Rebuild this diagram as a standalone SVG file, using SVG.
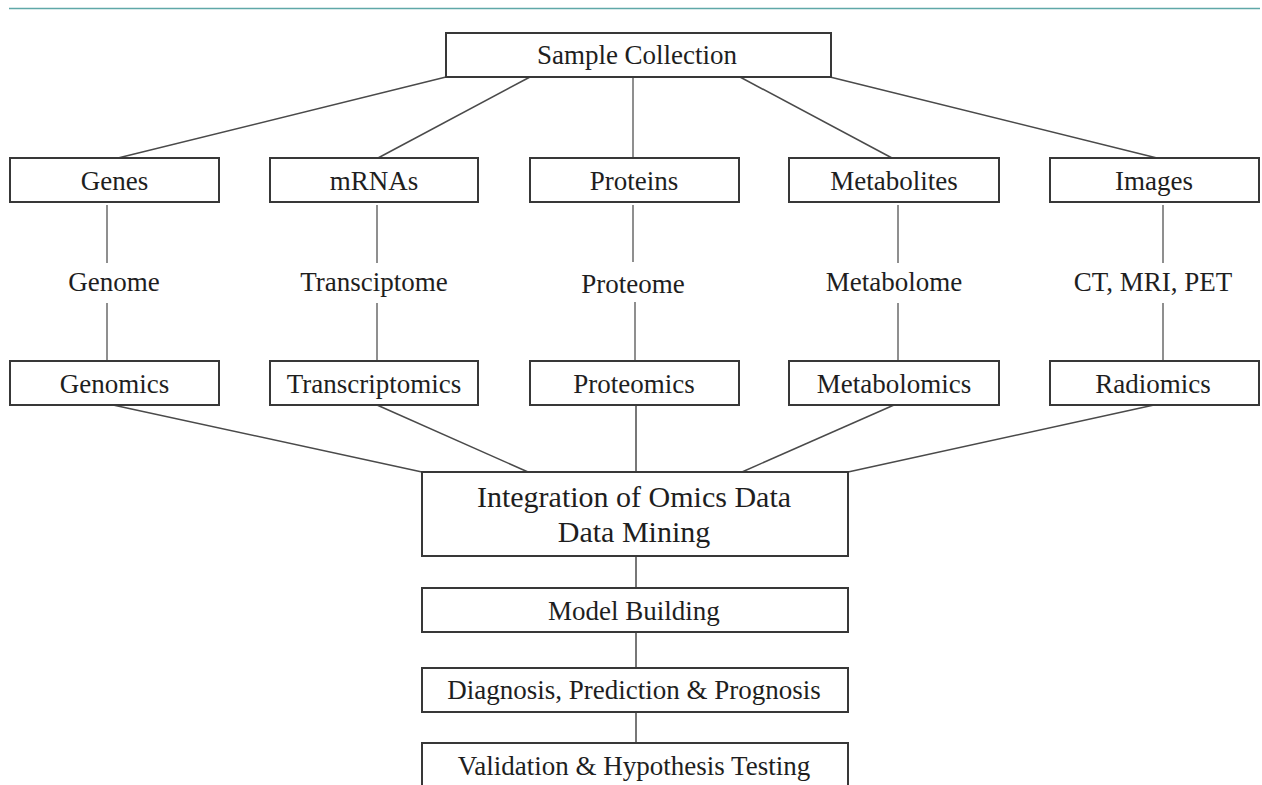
<svg xmlns="http://www.w3.org/2000/svg" width="1262" height="785" viewBox="0 0 1262 785">
<style>
.box{fill:#fff;stroke:#383838;stroke-width:2}
.t{font-family:"Liberation Serif","Times New Roman",serif;font-size:27px;fill:#1e1e1e;text-anchor:middle}
.big{font-size:30px}
.c{stroke:#4a4a4a;stroke-width:1.5;fill:none}
.v{stroke:#6a6a6a;stroke-width:1.5;fill:none}
</style>
<rect width="1262" height="785" fill="#fff"/>
<line x1="9" y1="8.5" x2="1260" y2="8.5" stroke="#5fa8a8" stroke-width="1.5"/>
<g id="connectors">
<line class="c" x1="446" y1="77" x2="118" y2="158"/>
<line class="c" x1="530" y1="77" x2="378" y2="158"/>
<line class="v" x1="633" y1="77" x2="633" y2="158"/>
<line class="c" x1="740" y1="77" x2="892" y2="158"/>
<line class="c" x1="830" y1="77" x2="1157" y2="158"/>
<line class="v" x1="107" y1="205" x2="107" y2="263"/>
<line class="v" x1="377" y1="205" x2="377" y2="263"/>
<line class="v" x1="633" y1="205" x2="633" y2="262"/>
<line class="v" x1="898" y1="205" x2="898" y2="263"/>
<line class="v" x1="1163" y1="205" x2="1163" y2="263"/>
<line class="v" x1="107" y1="303" x2="107" y2="361"/>
<line class="v" x1="377" y1="303" x2="377" y2="361"/>
<line class="v" x1="635" y1="302" x2="635" y2="361"/>
<line class="v" x1="898" y1="303" x2="898" y2="361"/>
<line class="v" x1="1163" y1="303" x2="1163" y2="361"/>
<line class="c" x1="113" y1="405" x2="422" y2="472"/>
<line class="c" x1="377" y1="405" x2="528" y2="472"/>
<line class="c" x1="636" y1="405" x2="636" y2="472"/>
<line class="c" x1="894" y1="405" x2="742" y2="472"/>
<line class="c" x1="1154" y1="405" x2="848" y2="472"/>
<line class="c" x1="636" y1="556" x2="636" y2="588"/>
<line class="c" x1="636" y1="632" x2="636" y2="668"/>
<line class="c" x1="636" y1="712" x2="636" y2="743"/>
</g>
<g id="sample"><rect class="box" x="446" y="33" width="385" height="44"/><text class="t" x="637" y="64">Sample Collection</text></g>
<g id="genes"><rect class="box" x="10" y="158" width="209" height="44"/><text class="t" x="114.5" y="190">Genes</text></g>
<g id="mrnas"><rect class="box" x="270" y="158" width="208" height="44"/><text class="t" x="374" y="190">mRNAs</text></g>
<g id="proteins"><rect class="box" x="530" y="158" width="209" height="44"/><text class="t" x="634" y="190">Proteins</text></g>
<g id="metabolites"><rect class="box" x="789" y="158" width="210" height="44"/><text class="t" x="894" y="190">Metabolites</text></g>
<g id="images"><rect class="box" x="1050" y="158" width="209" height="44"/><text class="t" x="1154" y="190">Images</text></g>
<g id="genome"><text class="t" x="114" y="291">Genome</text></g>
<g id="transcriptome"><text class="t" x="374" y="291">Transciptome</text></g>
<g id="proteome"><text class="t" x="633" y="293">Proteome</text></g>
<g id="metabolome"><text class="t" x="894" y="291">Metabolome</text></g>
<g id="imaging"><text class="t" x="1153" y="291">CT, MRI, PET</text></g>
<g id="genomics"><rect class="box" x="10" y="361" width="209" height="44"/><text class="t" x="114.5" y="393">Genomics</text></g>
<g id="transcriptomics"><rect class="box" x="270" y="361" width="208" height="44"/><text class="t" x="374" y="393">Transcriptomics</text></g>
<g id="proteomics"><rect class="box" x="530" y="361" width="209" height="44"/><text class="t" x="634" y="393">Proteomics</text></g>
<g id="metabolomics"><rect class="box" x="789" y="361" width="210" height="44"/><text class="t" x="894" y="393">Metabolomics</text></g>
<g id="radiomics"><rect class="box" x="1050" y="361" width="209" height="44"/><text class="t" x="1153" y="393">Radiomics</text></g>
<g id="integration"><rect class="box" x="422" y="472" width="426" height="84"/><text class="t big" x="634" y="507">Integration of Omics Data</text><text class="t big" x="634" y="542">Data Mining</text></g>
<g id="model"><rect class="box" x="422" y="588" width="426" height="44"/><text class="t" x="634" y="620">Model Building</text></g>
<g id="diagnosis"><rect class="box" x="422" y="668" width="426" height="44"/><text class="t" x="634" y="699">Diagnosis, Prediction &amp; Prognosis</text></g>
<g id="validation"><rect class="box" x="422" y="743" width="426" height="60"/><text class="t" x="634" y="775">Validation &amp; Hypothesis Testing</text></g>
</svg>
